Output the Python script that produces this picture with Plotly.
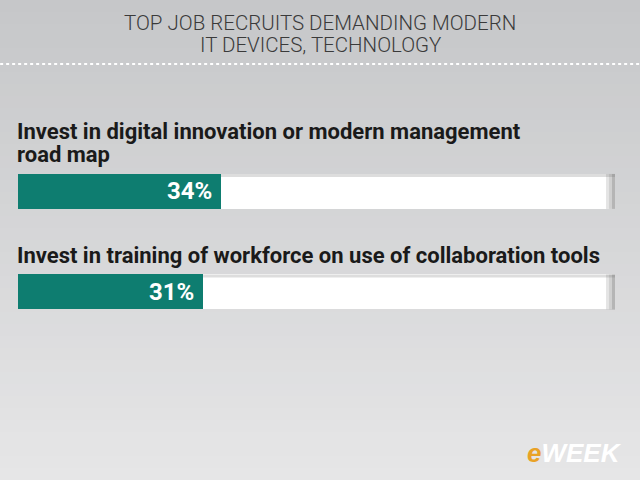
import plotly.graph_objects as go

categories = ["Invest in digital innovation or modern management<br>road map",
              "Invest in training of workforce on use of collaboration tools"]
values = [34, 31]
value_labels = ["34%", "31%"]
full_scale = [100, 100]
title_lines = ["TOP JOB RECRUITS DEMANDING MODERN", "IT DEVICES, TECHNOLOGY"]

pos = [0, 1]
PX = 1 / 100.5  # y-units per pixel
BAR_W = 35 * PX

fig = go.Figure()
fig.add_trace(go.Bar(x=full_scale, y=pos, orientation="h", width=BAR_W,
                     marker=dict(color="white", line=dict(width=0)),
                     hoverinfo="skip", showlegend=False))
fig.add_trace(go.Bar(x=values, y=pos, orientation="h", width=BAR_W,
                     marker=dict(color="#0e7d70", line=dict(width=0)),
                     hoverinfo="skip", showlegend=False))

# background gradient bands
shapes = []
n = 40
c0 = (198, 199, 201)
c1 = (230, 230, 231)
for i in range(n):
    t = i / (n - 1)
    c = tuple(int(round(c0[k] + (c1[k] - c0[k]) * t)) for k in range(3))
    shapes.append(dict(type="rect", xref="paper", yref="paper", x0=-0.1, x1=1.1,
                       y0=1 - (i + 1) / n, y1=1 - i / n, fillcolor="rgb(%d,%d,%d)" % c,
                       line=dict(width=0), layer="below"))
# dotted separator
shapes.append(dict(type="line", xref="paper", yref="paper", x0=-0.05, x1=1.1,
                   y0=1 - 64 / 480, y1=1 - 64 / 480,
                   line=dict(color="white", width=2, dash="dot"), layer="below"))
# shadows on white bars (right edge and top)
for p in pos:
    for j, a in enumerate([0.55, 0.35, 0.2]):
        shapes.append(dict(type="rect", xref="x", yref="y", x0=100 - (j + 1) * 0.5, x1=100 - j * 0.5,
                           y0=p - BAR_W / 2, y1=p + BAR_W / 2,
                           fillcolor="rgba(120,120,120,%.2f)" % a, line=dict(width=0), layer="above"))
    shapes.append(dict(type="rect", xref="x", yref="y", x0=values[p], x1=100,
                       y0=p - BAR_W / 2, y1=p - BAR_W / 2 + 3 * PX,
                       fillcolor="rgba(120,120,120,0.25)", line=dict(width=0), layer="above"))

annotations = []
for k, line in enumerate(title_lines):
    annotations.append(dict(text=line, xref="paper", yref="paper",
                            x=(320 - 18) / 597, y=1 - (23 + 22 * k) / 480,
                            xanchor="center", yanchor="middle", showarrow=False,
                            font=dict(family="Roboto", size=20.5, color="#3a3a3a", weight=300)))
for p, cat in zip(pos, categories):
    lines = cat.split("<br>")
    nl = len(lines)
    for k, line in enumerate(lines):
        y = p - BAR_W / 2 - 19 * PX - (nl - 1 - k) * 23 * PX
        annotations.append(dict(text="<b>" + line + "</b>", xref="x", yref="y", x=0, y=y,
                                xanchor="left", yanchor="middle", xshift=-2, showarrow=False,
                                borderpad=0,
                                font=dict(family="Roboto", size=22, color="#1a1a1a")))
for p, v, lab in zip(pos, values, value_labels):
    annotations.append(dict(text="<b>" + lab + "</b>", xref="x", yref="y", x=v, y=p,
                            xanchor="right", yanchor="middle", xshift=-8, showarrow=False,
                            borderpad=0, font=dict(family="Roboto", size=24, color="white")))
# logo
annotations.append(dict(text="<b><i><span style='color:#e9a227'>e</span>WEEK</i></b>",
                        xref="paper", yref="paper", x=1.0, y=1 - 453 / 480,
                        xanchor="right", yanchor="middle", xshift=9, showarrow=False,
                        font=dict(family="Liberation Sans", size=26, color="white")))

fig.update_layout(
    width=640, height=480,
    margin=dict(l=18, r=25, t=0, b=0),
    paper_bgcolor="#d4d4d5", plot_bgcolor="rgba(0,0,0,0)",
    barmode="overlay", bargap=0,
    xaxis=dict(range=[0, 100], visible=False, fixedrange=True),
    yaxis=dict(range=[2.871, -1.905], visible=False, fixedrange=True),
    shapes=shapes, annotations=annotations,
)

fig.write_html("out.html")
